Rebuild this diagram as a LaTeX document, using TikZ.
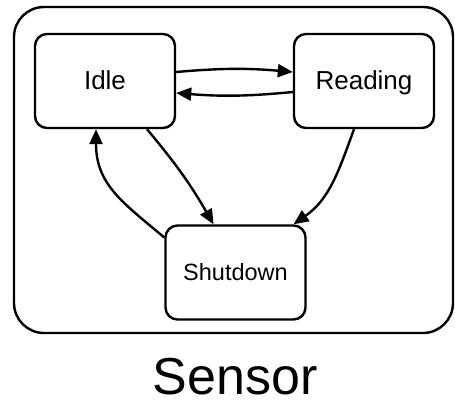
\documentclass[tikz,border=0pt]{standalone}
\usepackage{fontspec}
\setsansfont{Liberation Sans}
\usetikzlibrary{arrows.meta}

\begin{document}
\begin{tikzpicture}[x=1pt,y=-1pt,font=\sffamily,
	state/.style={draw,line width=2.4pt,fill=white,rounded corners=12pt,minimum width=140pt,minimum height=94pt,text height=18pt,text depth=0pt,font=\sffamily\fontsize{26}{30}\selectfont},
	trans/.style={line width=2.4pt,-{Triangle[length=15pt,width=13pt]}}]
				\useasboundingbox (0,0) rectangle (455,401);
				\draw[line width=2.4pt,rounded corners=30pt] (14,7) rectangle (453,333);
				\node[state] (idle) at (105,81) {Idle};
				\node[state] (reading) at (364,81) {Reading};
				\node[state,text height=15pt,font=\sffamily\fontsize{23.5}{28}\selectfont] (shutdown) at (235.5,272.5) {Shutdown};
				\node[anchor=base,inner sep=0pt,font=\sffamily\fontsize{52}{60}\selectfont] (sensor) at (235,394) {Sensor};
				\draw[trans] ([yshift=9pt]idle.east) to[bend left=5] ([yshift=9pt]reading.west);
				\draw[trans] ([yshift=-11pt]reading.west) to[bend left=5] ([yshift=-12pt]idle.east);
				\draw[trans] ([xshift=42pt]idle.south) to[bend left=5] ([xshift=-22pt]shutdown.north);
				\draw[trans] ([yshift=35pt]shutdown.west) to[out=140,in=-90,looseness=1.1] ([xshift=-9pt]idle.south);
				\draw[trans] ([xshift=-10pt]reading.south) to[out=250,in=35] ([xshift=58pt]shutdown.north);
			\end{tikzpicture}
\end{document}
